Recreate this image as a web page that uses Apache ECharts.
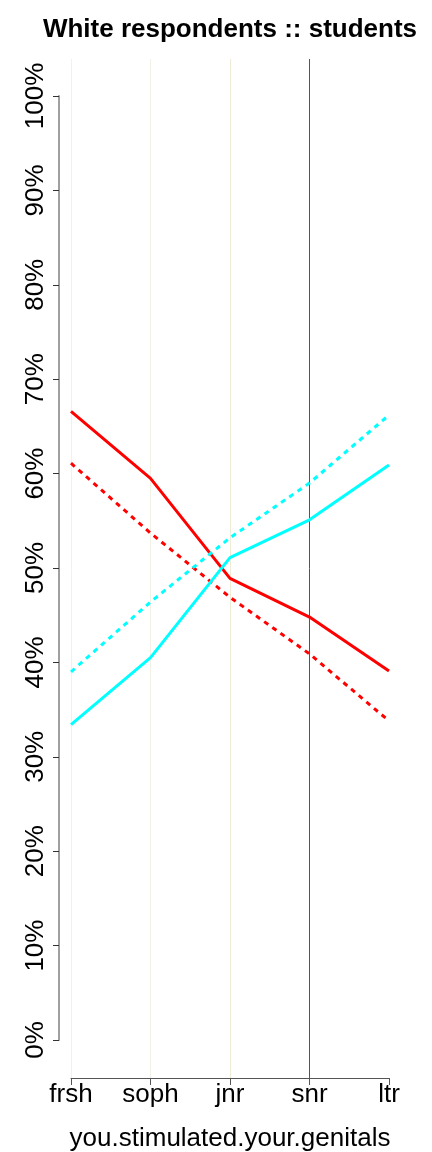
<!DOCTYPE html>
<html>
<head>
<meta charset="utf-8">
<script src="https://cdn.jsdelivr.net/npm/echarts@6/dist/echarts.min.js"></script>
<style>
  html, body { margin: 0; padding: 0; background: #fff; }
  #chart { width: 432px; height: 1152px; }
</style>
</head>
<body>
<div id="chart"></div>
<script>
// data
const years = ['frsh', 'soph', 'jnr', 'snr', 'ltr']
const redSolid = [66.6, 59.5, 48.9, 44.8, 39.1]
const redDashed = [61.1, 53.7, 46.9, 40.9, 33.8]
const cyanSolid = [33.4, 40.5, 51.1, 55.1, 60.9]
const cyanDashed = [39.0, 46.4, 53.2, 59.0, 66.2]
const yTicks = [0, 10, 20, 30, 40, 50, 60, 70, 80, 90, 100]

// colours of the vertical guide lines, one per category
const guideColors = ['#f4f2e8', '#f2f1e6', '#eeecd6', '#555555', 'rgba(0,0,0,0)']

const chart = echarts.init(document.getElementById('chart'))
const font = 'Liberation Sans, Arial, sans-serif'

function line(data, color, dashed) {
  return {
    type: 'line',
    xAxisIndex: 0,
    yAxisIndex: 0,
    data: data,
    symbol: 'none',
    silent: true,
    lineStyle: { color: color, width: 3, type: dashed ? [5, 5] : 'solid' }
  }
}

const option = {
  animation: false,
  backgroundColor: '#fff',
  title: {
    text: 'White respondents :: students',
    left: 225,
    top: 12,
    textAlign: 'center',
    textStyle: { fontFamily: font, fontSize: 26, fontWeight: 'bold', color: '#000' }
  },
  grid: [
    // data grid: 0% .. 100%
    { left: 71, right: 43, top: 96, bottom: 112, outerBoundsMode: 'none' },
    // frame grid for x axis + guides
    { left: 71, right: 43, top: 59, bottom: 74, outerBoundsMode: 'none' }
  ],
  xAxis: [
    {
      gridIndex: 0,
      type: 'category',
      data: years,
      boundaryGap: false,
      show: false
    },
    {
      gridIndex: 1,
      type: 'category',
      data: years,
      boundaryGap: false,
      axisLine: { lineStyle: { color: '#555', width: 1 } },
      axisTick: { alignWithLabel: true, length: 7, lineStyle: { color: '#555' } },
      axisLabel: { color: '#000', fontFamily: font, fontSize: 26, margin: 4 },
      splitLine: { show: true, lineStyle: { color: guideColors, width: 1 } },
      name: 'you.stimulated.your.genitals',
      nameLocation: 'middle',
      nameGap: 48,
      nameTextStyle: { color: '#000', fontFamily: font, fontSize: 26 }
    }
  ],
  yAxis: [
    {
      gridIndex: 0,
      type: 'value',
      min: 0,
      max: 100,
      interval: 10,
      offset: 12,
      axisLine: { show: true, lineStyle: { color: '#a0a0a0', width: 2 } },
      axisTick: { show: true, length: 6, lineStyle: { color: '#333' } },
      axisLabel: {
        color: '#000',
        fontFamily: font,
        fontSize: 26,
        rotate: 90,
        margin: 10,
        formatter: v => yTicks.includes(v) ? v + '%' : ''
      },
      splitLine: { show: false }
    },
    {
      gridIndex: 1,
      type: 'value',
      min: 0,
      max: 1,
      show: false
    }
  ],
  series: [
    line(redSolid, '#ff0000', false),
    line(redDashed, '#ff0000', true),
    line(cyanSolid, '#00ffff', false),
    line(cyanDashed, '#00ffff', true)
  ]
}

chart.setOption(option)
</script>
</body>
</html>
